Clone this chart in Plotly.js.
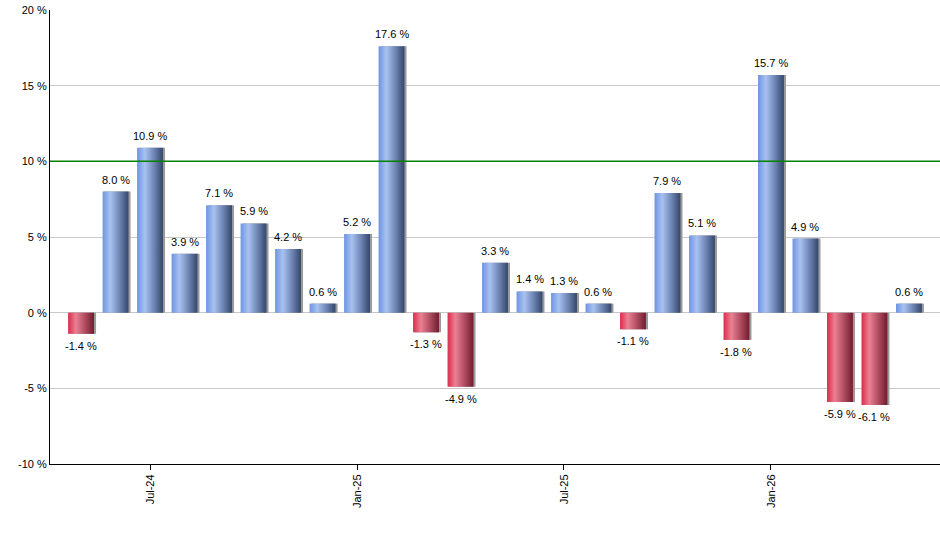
<!DOCTYPE html>
<html>
<head>
<meta charset="utf-8">
<script src="https://cdn.plot.ly/plotly-3.0.1.min.js"></script>
<style>
html,body{margin:0;padding:0;background:#fff;}
#chart{width:940px;height:550px;}
</style>
</head>
<body>
<div id="chart"></div>
<script>
// Monthly returns (%)
const months = ["May-24","Jun-24","Jul-24","Aug-24","Sep-24","Oct-24","Nov-24","Dec-24",
  "Jan-25","Feb-25","Mar-25","Apr-25","May-25","Jun-25","Jul-25","Aug-25","Sep-25","Oct-25",
  "Nov-25","Dec-25","Jan-26","Feb-26","Mar-26","Apr-26","May-26"];
const returns = [-1.4, 8.0, 10.9, 3.9, 7.1, 5.9, 4.2, 0.6, 5.2, 17.6, -1.3, -4.9, 3.3, 1.4, 1.3,
  0.6, -1.1, 7.9, 5.1, -1.8, 15.7, 4.9, -5.9, -6.1, 0.6];
const xTickVals = ["Jul-24","Jan-25","Jul-25","Jan-26"];
const yTickVals = [-10, -5, 0, 5, 10, 15, 20];
const yTickText = ["-10 %","-5 %","0 %","5 %","10 %","15 %","20 %"];
const referenceLevel = 10;

const labels = returns.map(v => v.toFixed(1) + " %");
const BW = 0.75;

const shadow = {
  type: "bar", x: months, y: returns,
  width: BW, offset: -BW/2 + 0.06,
  marker: {color: "#9a9a9a"},
  hoverinfo: "skip", showlegend: false
};
const main = {
  type: "bar", x: months, y: returns,
  width: BW, offset: -BW/2,
  marker: {color: returns.map(v => v >= 0 ? "#7f9fdc" : "#c8455e")},
  showlegend: false
};

const annotations = returns.map((v, i) => ({
  x: months[i], y: v, xref: "x", yref: "y",
  text: labels[i], showarrow: false,
  yanchor: v >= 0 ? "bottom" : "top",
  yshift: v >= 0 ? 4 : -4,
  font: {family: "Liberation Sans, Arial, sans-serif", size: 11, color: "#000"}
}));

const layout = {
  width: 940, height: 550,
  margin: {l: 50, r: 0, t: 10, b: 86},
  paper_bgcolor: "#fff", plot_bgcolor: "#fff",
  barmode: "overlay",
  font: {family: "Liberation Sans, Arial, sans-serif", size: 11, color: "#000"},
  xaxis: {
    type: "category", range: [-0.9, 24.9],
    tickmode: "array", tickvals: xTickVals, ticktext: xTickVals,
    tickangle: -90, ticks: "outside", ticklen: 5, tickcolor: "#000",
    showgrid: false, showline: true, linecolor: "#000", linewidth: 1,
    tickfont: {size: 11, color: "#000"}, fixedrange: true
  },
  yaxis: {
    range: [-10, 20], tickmode: "array", tickvals: yTickVals, ticktext: yTickText,
    showgrid: true, gridcolor: "#c8c8c8", gridwidth: 1,
    zeroline: true, zerolinecolor: "#c8c8c8", zerolinewidth: 1,
    showline: true, linecolor: "#000", linewidth: 1,
    ticks: "", tickfont: {size: 11, color: "#000"}, fixedrange: true
  },
  annotations: annotations,
  shapes: [{
    type: "line", xref: "paper", x0: 0, x1: 1, yref: "y", y0: referenceLevel, y1: referenceLevel,
    line: {color: "#008000", width: 1.5}
  }]
};

const gd = document.getElementById("chart");
Plotly.newPlot(gd, [shadow, main], layout, {displayModeBar: false, staticPlot: true}).then(() => {
  const svg = gd.querySelector("svg.main-svg");
  const NS = "http://www.w3.org/2000/svg";
  let defs = svg.querySelector("defs");
  if (!defs) { defs = document.createElementNS(NS, "defs"); svg.insertBefore(defs, svg.firstChild); }
  function grad(id, stops) {
    const g = document.createElementNS(NS, "linearGradient");
    g.setAttribute("id", id);
    g.setAttribute("x1", "0"); g.setAttribute("y1", "0");
    g.setAttribute("x2", "1"); g.setAttribute("y2", "0");
    stops.forEach(([o, c]) => {
      const s = document.createElementNS(NS, "stop");
      s.setAttribute("offset", o); s.setAttribute("stop-color", c);
      g.appendChild(s);
    });
    defs.appendChild(g);
  }
  grad("gBlue", [[0, "#6e94e2"], [0.3, "#a8c2f0"], [0.65, "#6f86b5"], [1, "#34476a"]]);
  grad("gRed", [[0, "#dc2a4b"], [0.3, "#eb8093"], [0.65, "#b04d61"], [1, "#741b2e"]]);
  const traces = gd.querySelectorAll(".barlayer .trace");
  const mainTrace = traces[traces.length - 1];
  mainTrace.querySelectorAll(".point").forEach((pt, i) => {
    const p = pt.querySelector("path");
    if (p) p.style.fill = returns[i] >= 0 ? "url(#gBlue)" : "url(#gRed)";
  });
});
</script>
</body>
</html>
